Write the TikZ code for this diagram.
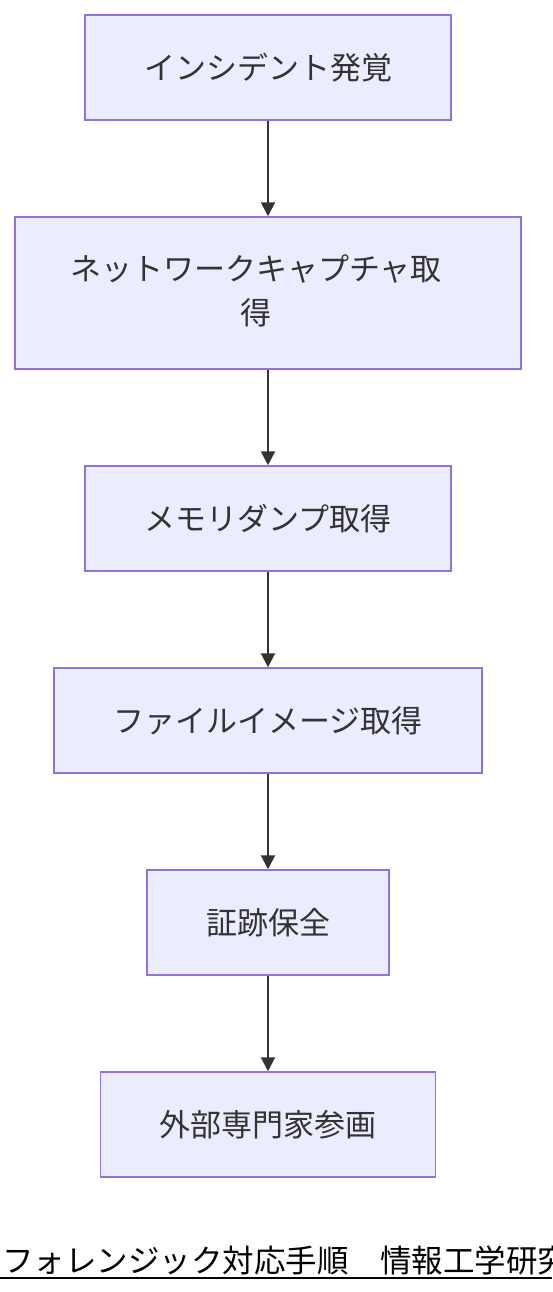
\documentclass[tikz,border=0pt]{standalone}
\usepackage{fontspec}
\setmainfont{Noto Sans CJK JP}
\usetikzlibrary{arrows.meta}
\definecolor{boxfill}{HTML}{ECECFF}
\definecolor{boxline}{HTML}{9370DB}
\definecolor{txt}{HTML}{333333}
\tikzset{
  stepbox/.style={draw=boxline, fill=boxfill, line width=1.5pt, text=txt,
    font=\fontsize{31}{44}\selectfont, align=center, inner sep=0pt},
  steptext/.style={text=txt, font=\fontsize{31}{44}\selectfont, align=center, inner sep=0pt},
  flow/.style={draw=txt, line width=2pt, -{Triangle[length=14pt,width=14pt]}}
}
\begin{document}
\begin{tikzpicture}[x=1pt,y=-1pt]
\useasboundingbox (0,0) rectangle (552,1292);
\fill[white] (0,0) rectangle (552,1292);
\node[stepbox, minimum width=366pt, minimum height=105pt] (a) at (268,67.5) {インシデント発覚};
\node[stepbox, minimum width=506pt, minimum height=152pt] (b) at (268,293) {};
\node[steptext] (bt) at (256,291) {ネットワークキャプチャ取\\得};
\node[stepbox, minimum width=366pt, minimum height=105pt] (c) at (268,518.5) {メモリダンプ取得};
\node[stepbox, minimum width=428pt, minimum height=105pt] (d) at (268,720.5) {ファイルイメージ取得};
\node[stepbox, minimum width=242pt, minimum height=105pt] (e) at (268,922.5) {証跡保全};
\node[stepbox, minimum width=335pt, minimum height=105pt] (f) at (268,1124.5) {外部専門家参画};
\draw[flow] (a) -- (b);
\draw[flow] (b) -- (c);
\draw[flow] (c) -- (d);
\draw[flow] (d) -- (e);
\draw[flow] (e) -- (f);
\node[anchor=base west, inner sep=0pt, font=\fontsize{31.5}{36}\selectfont] (cap) at (2,1272) {フォレンジック対応手順　情報工学研究};
\coordinate (ul) at (0,1278);
\coordinate (ur) at (552,1278);
\draw[line width=2pt] (ul) -- (ur);
\end{tikzpicture}
\end{document}
